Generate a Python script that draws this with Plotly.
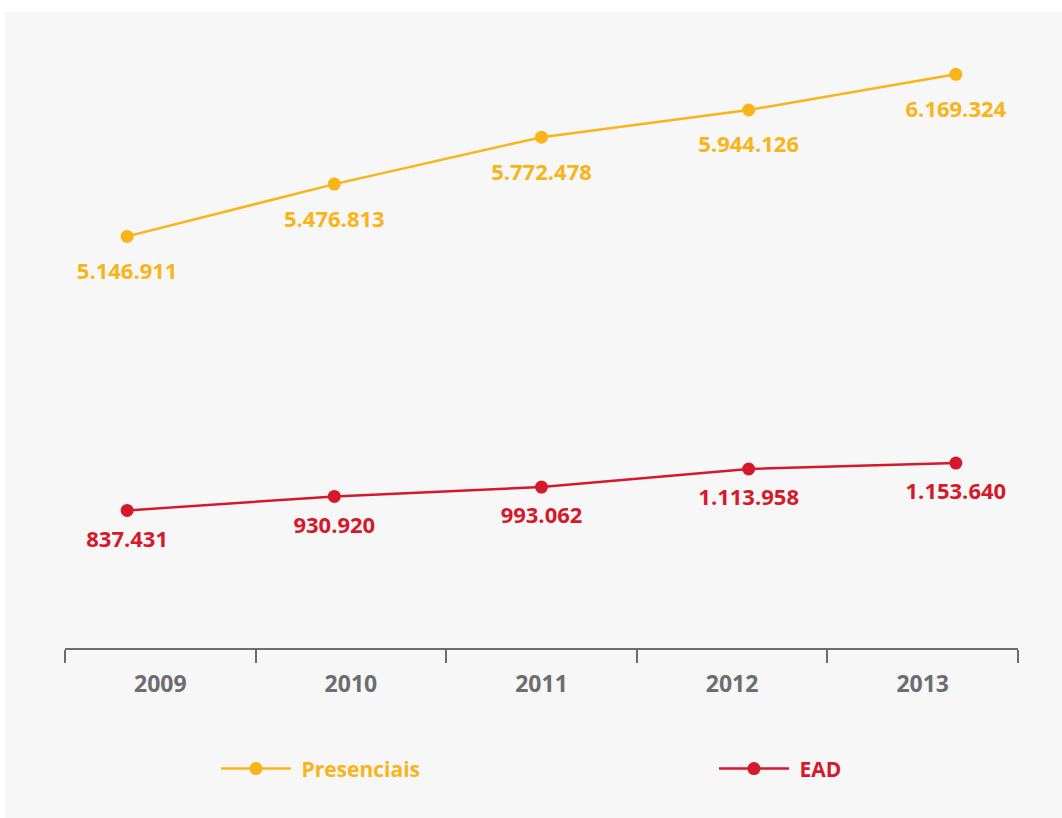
import plotly.graph_objects as go

years = ["2009", "2010", "2011", "2012", "2013"]
presenciais = [5146911, 5476813, 5772478, 5944126, 6169324]
ead = [837431, 930920, 993062, 1113958, 1153640]

YELLOW = "#F8B419"
RED = "#D6182B"
GRAY = "#6d6d70"
BG = "#f7f7f7"
FONT = "Open Sans"


def fmt(v):
    return f"{v:,}".replace(",", ".")


xnum = [int(y) for y in years]

fig = go.Figure()

# invisible trace to create category axis with year labels
fig.add_trace(go.Scatter(x=years, y=[None] * len(years), xaxis="x", yaxis="y",
                         showlegend=False, hoverinfo="skip"))

series = [
    ("Presenciais", presenciais, YELLOW, "y", "legend", 40),
    ("EAD", ead, RED, "y2", "legend2", 30),
]
for name, vals, color, yax, leg, pad in series:
    fig.add_trace(go.Scatter(
        x=xnum, y=vals, name=f"<span style='color:{color}'>&nbsp;{name}</span>",
        mode="lines+markers", line=dict(color=color, width=2.5),
        marker=dict(color=color, size=13), xaxis="x2", yaxis=yax, legend=leg))
    # data labels (transparent, larger marker used only to push label downward)
    fig.add_trace(go.Scatter(
        x=xnum, y=vals, mode="markers+text", text=[fmt(v) for v in vals],
        textposition="bottom center", showlegend=False, hoverinfo="skip",
        marker=dict(size=pad, color="rgba(0,0,0,0)"),
        textfont=dict(color=color, size=22, family=FONT, weight="bold"),
        xaxis="x2", yaxis=yax, cliponaxis=False))

fig.update_layout(
    width=1062, height=818,
    paper_bgcolor="white", plot_bgcolor=BG,
    margin=dict(l=65, r=44, t=40, b=170),
    font=dict(family=FONT, size=21, color=GRAY),
    xaxis=dict(type="category", categoryorder="array", categoryarray=years,
               range=[-0.5, 4.5], tickson="boundaries", ticks="outside", ticklen=13,
               tickwidth=2, tickcolor=GRAY, showline=True, linecolor=GRAY, linewidth=2,
               showgrid=False, zeroline=False, fixedrange=True, ticklabelstandoff=14,
               tickfont=dict(size=23, color=GRAY, family=FONT, weight="bold")),
    xaxis2=dict(overlaying="x", range=[2008.7, 2013.3], visible=False, showgrid=False),
    yaxis=dict(range=[2551452, 6385500], visible=False, showgrid=False, zeroline=False),
    yaxis2=dict(overlaying="y", range=[-80888, 3977512], visible=False, showgrid=False, zeroline=False),
    showlegend=True,
    legend=dict(orientation="h", xref="container", yref="container", x=0.2034, y=0.06,
                xanchor="left", yanchor="middle", itemwidth=70,
                bgcolor="rgba(0,0,0,0)",
                font=dict(size=21, family=FONT, weight="bold")),
    legend2=dict(orientation="h", xref="container", yref="container", x=0.6723, y=0.06,
                 xanchor="left", yanchor="middle", itemwidth=70,
                 bgcolor="rgba(0,0,0,0)",
                 font=dict(size=21, family=FONT, weight="bold")),
    shapes=[dict(type="rect", xref="paper", yref="paper", layer="below",
                 x0=-60 / 953, x1=1.1, y0=-0.4, y1=1 + 28 / 608,
                 fillcolor=BG, line=dict(width=0))],
)

fig.write_html("out.html", config={"displayModeBar": False},
               post_script="document.body.style.margin='0';")
